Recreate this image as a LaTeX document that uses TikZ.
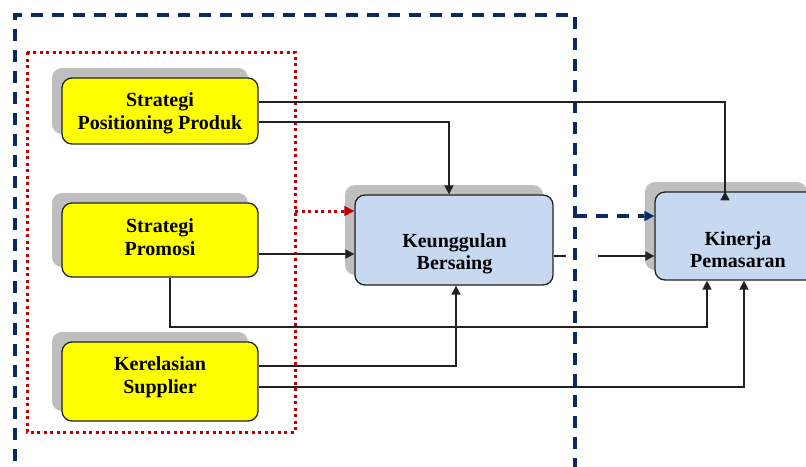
\documentclass[tikz,border=0pt]{standalone}
\usepackage{fontspec}
\setmainfont{Liberation Serif}
\usetikzlibrary{shadows,arrows.meta}
\definecolor{ybox}{HTML}{FFFF00}
\definecolor{bbox}{HTML}{C6D9F1}
\definecolor{shad}{HTML}{BFBFBF}
\definecolor{navy}{HTML}{0B2A63}
\definecolor{dred}{HTML}{C00000}
\definecolor{lin}{HTML}{222222}
\tikzset{
  boxbase/.style={draw=lin, line width=1.3pt, rounded corners=10pt, inner sep=0pt,
    general shadow={fill=shad, shadow xshift=-10pt, shadow yshift=10pt}},
  ybx/.style={boxbase, fill=ybox},
  bbx/.style={boxbase, fill=bbox},
  lbl/.style={align=center, inner sep=0pt, font=\bfseries\fontsize{20}{22.5}\selectfont},
  conn/.style={draw=lin, line width=1.6pt},
  arr/.style={conn, -{Triangle[length=9pt,width=9pt]}},
  bluedash/.style={navy, line width=3.2pt, dash pattern=on 12pt off 9pt},
  reddot/.style={dred, line width=3pt, dash pattern=on 3pt off 3.5pt},
}
\begin{document}
\begin{tikzpicture}[x=1pt,y=-1pt]
\useasboundingbox (0,0) rectangle (806,466);
% outer blue dashed frame
\draw[bluedash] (575,470) -- (575,15) -- (15,15) -- (15,470);
% red dotted frame
\draw[reddot] (27,52) rectangle (295,432);
% boxes
\node[ybx, minimum width=196pt, minimum height=66pt] (spp) at (160,111) {};
\node[ybx, minimum width=196pt, minimum height=74pt] (sp) at (160,240) {};
\node[ybx, minimum width=196pt, minimum height=79pt] (ks) at (160,381.5) {};
\node[bbx, minimum width=198pt, minimum height=90pt] (kb) at (454,240) {};
\node[bbx, minimum width=162pt, minimum height=88pt] (kp) at (736,236) {};
% labels
\node[lbl] (spp-t) at (160,113.4) {Strategi\\Positioning Produk};
\node[lbl] (sp-t) at (160,237) {Strategi\\Promosi};
\node[lbl] (ks-t) at (160,377) {Kerelasian\\Supplier};
\node[lbl] (kb-t) at (454.5,254) {Keunggulan\\Bersaing};
\node[lbl] (kp-t) at (738,249.5) {Kinerja\\Pemasaran};
% coordinates
\coordinate (redr) at (295,211);
\coordinate (bluec) at (575,216);
\coordinate (gapa) at (566,256);
\coordinate (gapb) at (598,256);
% dotted red arrow
\draw[reddot] (redr) -- ([xshift=-10pt]kb.west |- redr) coordinate (redend);
\draw[dred, line width=1pt, -{Triangle[length=10pt,width=10pt]}] (redend) -- (kb.west |- redr);
% blue dashed arrow
\draw[bluedash] (bluec) -- ([xshift=-10pt]kp.west |- bluec) coordinate (blueend);
\draw[navy, line width=1pt, -{Triangle[length=10pt,width=10pt]}] (blueend) -- (kp.west |- bluec);
% connectors
\draw[arr] (spp.east |- 0,102) -| (725,192) -- (kp.north -| 725,0);
\draw[arr] (spp.east |- 0,122) -| (kb.north -| 449,0);
\draw[arr] (sp.east |- 0,254) -- (kb.west |- 0,254);
\draw[arr] (sp.south -| 170,0) |- (707,327) -- (kp.south -| 707,0);
\draw[arr] (ks.east |- 0,366) -| (kb.south -| 456,0);
\draw[arr] (ks.east |- 0,387) -| (kp.south -| 744,0);
\draw[conn] (kb.east |- gapa) -- (gapa);
\draw[arr] (gapb) -- (kp.west |- gapb);
\end{tikzpicture}
\end{document}
